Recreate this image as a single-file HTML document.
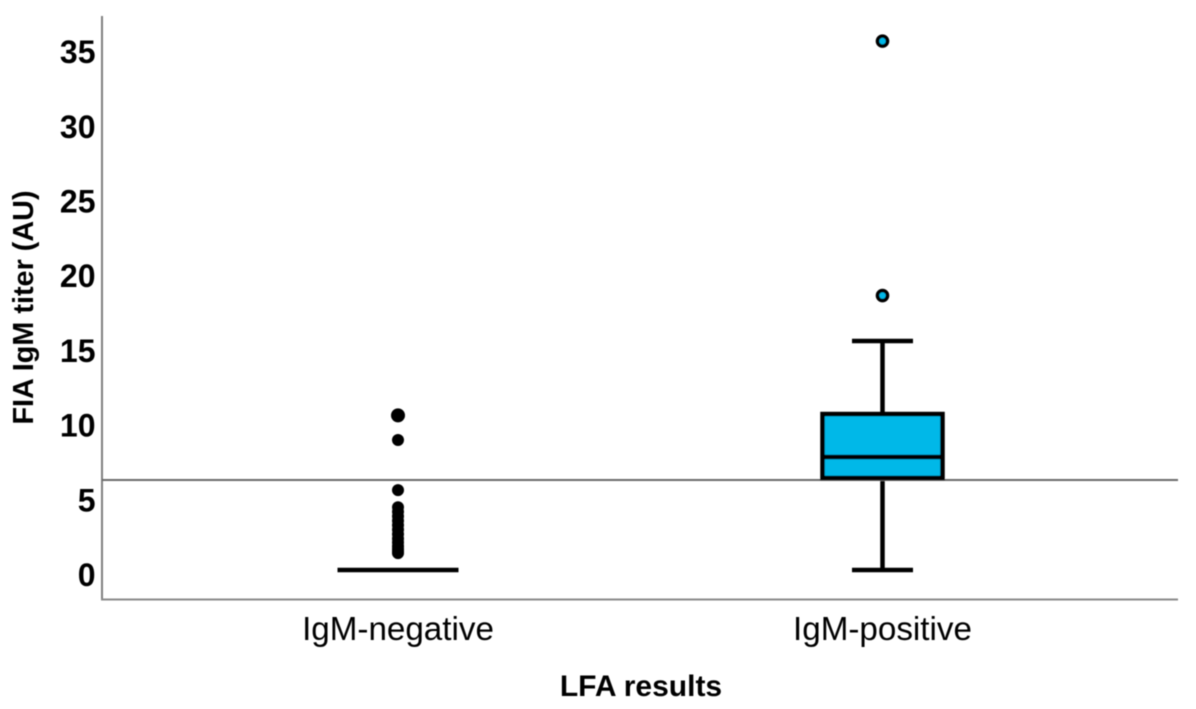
<!DOCTYPE html>
<html>
<head>
<meta charset="utf-8">
<title>FIA IgM titer by LFA results</title>
<style>
html,body{margin:0;padding:0;background:#fff;width:1196px;height:709px;overflow:hidden}
svg{display:block}
text{font-family:"Liberation Sans",Arial,sans-serif;fill:#000}
</style>
</head>
<body>
<svg id="chart" width="1196" height="709" viewBox="0 0 1196 709" xmlns="http://www.w3.org/2000/svg">
<defs><filter id="soft" x="-5%" y="-5%" width="110%" height="110%"><feGaussianBlur stdDeviation="0.45"/></filter></defs>
<g id="root" filter="url(#soft)"></g>
</svg>
<script>
const yTicks = [0, 5, 10, 15, 20, 25, 30, 35];
const categories = ["IgM-negative", "IgM-positive"];
const negativeOutliers = [10.35, 8.7, 5.35, 4.2, 3.9, 3.6, 3.3, 3.0, 2.7, 2.4, 2.1, 1.85, 1.6, 1.4, 1.25, 1.13];
const negativeBox = [0, 0, 0, 0, 0];
const positiveBox = [0, 6.16, 7.56, 10.44, 15.33];
const positiveOutliers = [18.37, 35.4];
const cutoff = 6.02;
const yAxisTitle = "FIA IgM titer (AU)";
const xAxisTitle = "LFA results";

const NS = "http://www.w3.org/2000/svg";
const root = document.getElementById("root");
const left = 102, right = 1178, top_ = 16, bottom = 599.5;
function y(v){ return 570 - v * 14.94; }
function x(i){ return 398 + i * 484.5; }
function make(tag, attrs, text){
  const el = document.createElementNS(NS, tag);
  for (const k in attrs) el.setAttribute(k, attrs[k]);
  if (text !== undefined) el.textContent = text;
  root.appendChild(el);
  return el;
}
function segment(x1, y1, x2, y2, color, w){
  return make("line", {x1:x1, y1:y1, x2:x2, y2:y2, stroke:color, "stroke-width":w});
}

let el;
el = segment(left, top_, left, bottom, "#7f7f7f", 2);


el = segment(left - 1, bottom, right, bottom, "#8a8a8a", 2);



yTicks.forEach(function(t){
  const lab = make("text", {x:95.5, y:y(t) + 16, "text-anchor":"end", "font-size":32, "font-weight":"bold"}, String(t));
  
  
});
categories.forEach(function(c, i){
  const lab = make("text", {x:x(i), y:640, "text-anchor":"middle", "font-size":33.2}, c);
  
  
});

el = make("text", {x:641, y:696, "text-anchor":"middle", "font-size":30, "font-weight":"bold"}, xAxisTitle);


el = make("text", {x:0, y:0, "text-anchor":"middle", "font-size":28.8, "font-weight":"bold", transform:"translate(33,307.5) rotate(-90)"}, yAxisTitle);



/* Negative group: collapsed box drawn as a single line */
el = segment(x(0) - 60.5, y(negativeBox[2]), x(0) + 60.5, y(negativeBox[2]), "#000", 4.5);


negativeOutliers.forEach(function(v, i){
  const dot = make("circle", {cx:x(0), cy:y(v), r:i === 0 ? 7 : 6, fill:"#000"});
  
  
});

/* Positive group */
const px = x(1);
const halfBox = 60, halfCap = 30.5;
el = segment(px, y(positiveBox[0]), px, y(positiveBox[1]), "#000", 4.5);


el = segment(px, y(positiveBox[3]), px, y(positiveBox[4]), "#000", 4.5);


el = segment(px - halfCap, y(positiveBox[0]), px + halfCap, y(positiveBox[0]), "#000", 4.5);


el = segment(px - halfCap, y(positiveBox[4]), px + halfCap, y(positiveBox[4]), "#000", 4.5);



el = segment(left, y(cutoff), right, y(cutoff), "#6a6a6a", 2);



el = make("rect", {x:px - halfBox, y:y(positiveBox[3]), width:halfBox * 2, height:y(positiveBox[1]) - y(positiveBox[3]), fill:"#00b8e8", stroke:"#000", "stroke-width":4.5});


el = segment(px - halfBox - 1, y(positiveBox[2]), px + halfBox, y(positiveBox[2]), "#000", 4.5);



positiveOutliers.forEach(function(v){
  const dot = make("circle", {cx:px, cy:y(v), r:5, fill:"#00b8e8", stroke:"#000", "stroke-width":3.6});
  
  
});
</script>
</body>
</html>
